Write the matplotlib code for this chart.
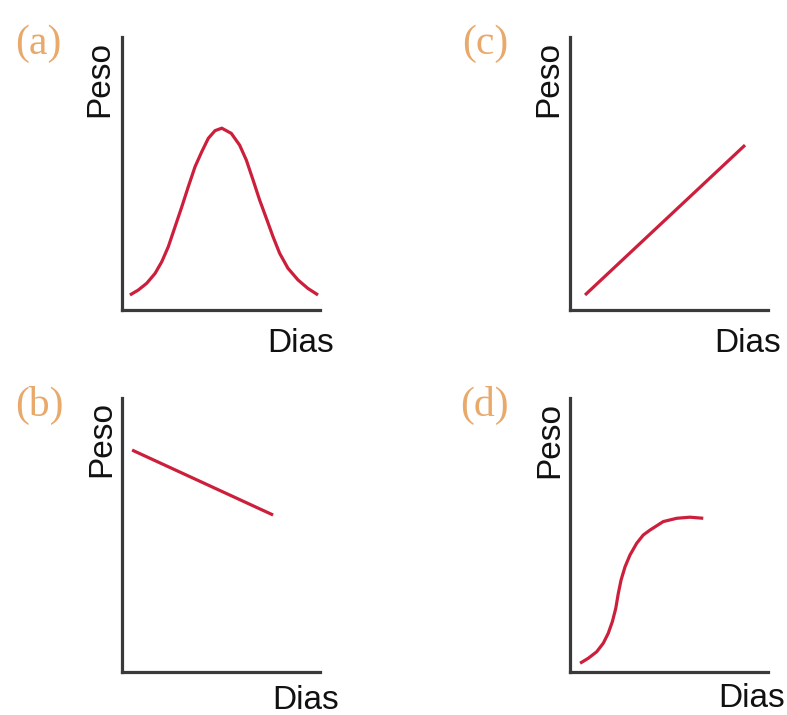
import matplotlib
matplotlib.use("Agg")
import matplotlib.pyplot as plt

# ---- data (axes run 0..10 in both directions) ----
panel_labels = ["(a)", "(b)", "(c)", "(d)"]
x_label = "Dias"
y_label = "Peso"

a_days = [0.40, 0.82, 1.25, 1.67, 2.01, 2.34, 2.68, 3.02, 3.35, 3.69,
          4.03, 4.36, 4.70, 5.04, 5.52, 5.94, 6.28, 6.62, 6.95, 7.29,
          7.63, 7.96, 8.38, 8.89, 9.39, 9.90]
a_weight = [0.55, 0.73, 0.98, 1.34, 1.77, 2.32, 3.05, 3.78, 4.52, 5.25,
            5.80, 6.29, 6.57, 6.66, 6.47, 6.04, 5.49, 4.76, 4.03, 3.36,
            2.68, 2.08, 1.53, 1.10, 0.79, 0.55]

b_days = [0.51, 7.63]
b_weight = [8.10, 5.73]

c_days = [0.76, 8.84]
c_weight = [0.55, 6.04]

d_days = [0.51, 0.92, 1.35, 1.68, 1.93, 2.14, 2.31, 2.44, 2.58, 2.78,
          3.03, 3.37, 3.70, 4.04, 4.71, 5.39, 6.06, 6.73]
d_weight = [0.32, 0.50, 0.74, 1.05, 1.41, 1.84, 2.32, 2.87, 3.36, 3.84,
            4.27, 4.70, 5.00, 5.18, 5.49, 5.61, 5.65, 5.61]

W, H = 787, 715
fig = plt.figure(figsize=(W / 100, H / 100), dpi=100)
fig.patch.set_facecolor("white")

LINE = "#CC1F3C"
AXC = "#3a3a3a"
ORANGE = "#E8A96B"


def fx(px):
    return px / W


def fy(py):
    return 1 - py / H


# axes boxes in pixels: (left, top, right, bottom)
boxes = {
    "a": (122, 37, 320, 310),
    "c": (570, 37, 768, 310),
    "b": (122, 398, 320, 672),
    "d": (570, 398, 768, 672),
}
series = {
    "a": (a_days, a_weight),
    "b": (b_days, b_weight),
    "c": (c_days, c_weight),
    "d": (d_days, d_weight),
}
# text anchors in pixels
label_pos = {"a": (15, 54), "c": (462, 54), "b": (15, 416), "d": (460, 416)}
peso_pos = {"a": (108, 117), "c": (557, 117), "b": (110, 477), "d": (558, 478)}
dias_pos = {"a": (334, 352), "c": (781, 352), "b": (339, 709), "d": (785, 707)}

for key, lab in zip(["a", "b", "c", "d"], panel_labels):
    l, t, r, b = boxes[key]
    ax = fig.add_axes([fx(l), fy(b), (r - l) / W, (b - t) / H])
    xs, ys = series[key]
    ax.plot(xs, ys, color=LINE, lw=2.3, solid_capstyle="butt",
            solid_joinstyle="round", clip_on=False)
    ax.set_xlim(0, 10)
    ax.set_ylim(0, 10)
    for s in ["top", "right"]:
        ax.spines[s].set_visible(False)
    for s in ["left", "bottom"]:
        ax.spines[s].set_color(AXC)
        ax.spines[s].set_linewidth(2.3)
    ax.set_xticks([])
    ax.set_yticks([])
    ax.patch.set_alpha(0)

    px, py = label_pos[key]
    fig.text(fx(px), fy(py), lab, family="Liberation Serif", fontsize=30,
             color=ORANGE, ha="left", va="baseline")
    px, py = peso_pos[key]
    fig.text(fx(px), fy(py), y_label, family="Liberation Sans", fontsize=24,
             color="#111111", rotation=90, rotation_mode="anchor",
             ha="left", va="baseline")
    px, py = dias_pos[key]
    fig.text(fx(px), fy(py), x_label, family="Liberation Sans", fontsize=24,
             color="#111111", ha="right", va="baseline")

fig.savefig("out.png", dpi=100, facecolor="white")
